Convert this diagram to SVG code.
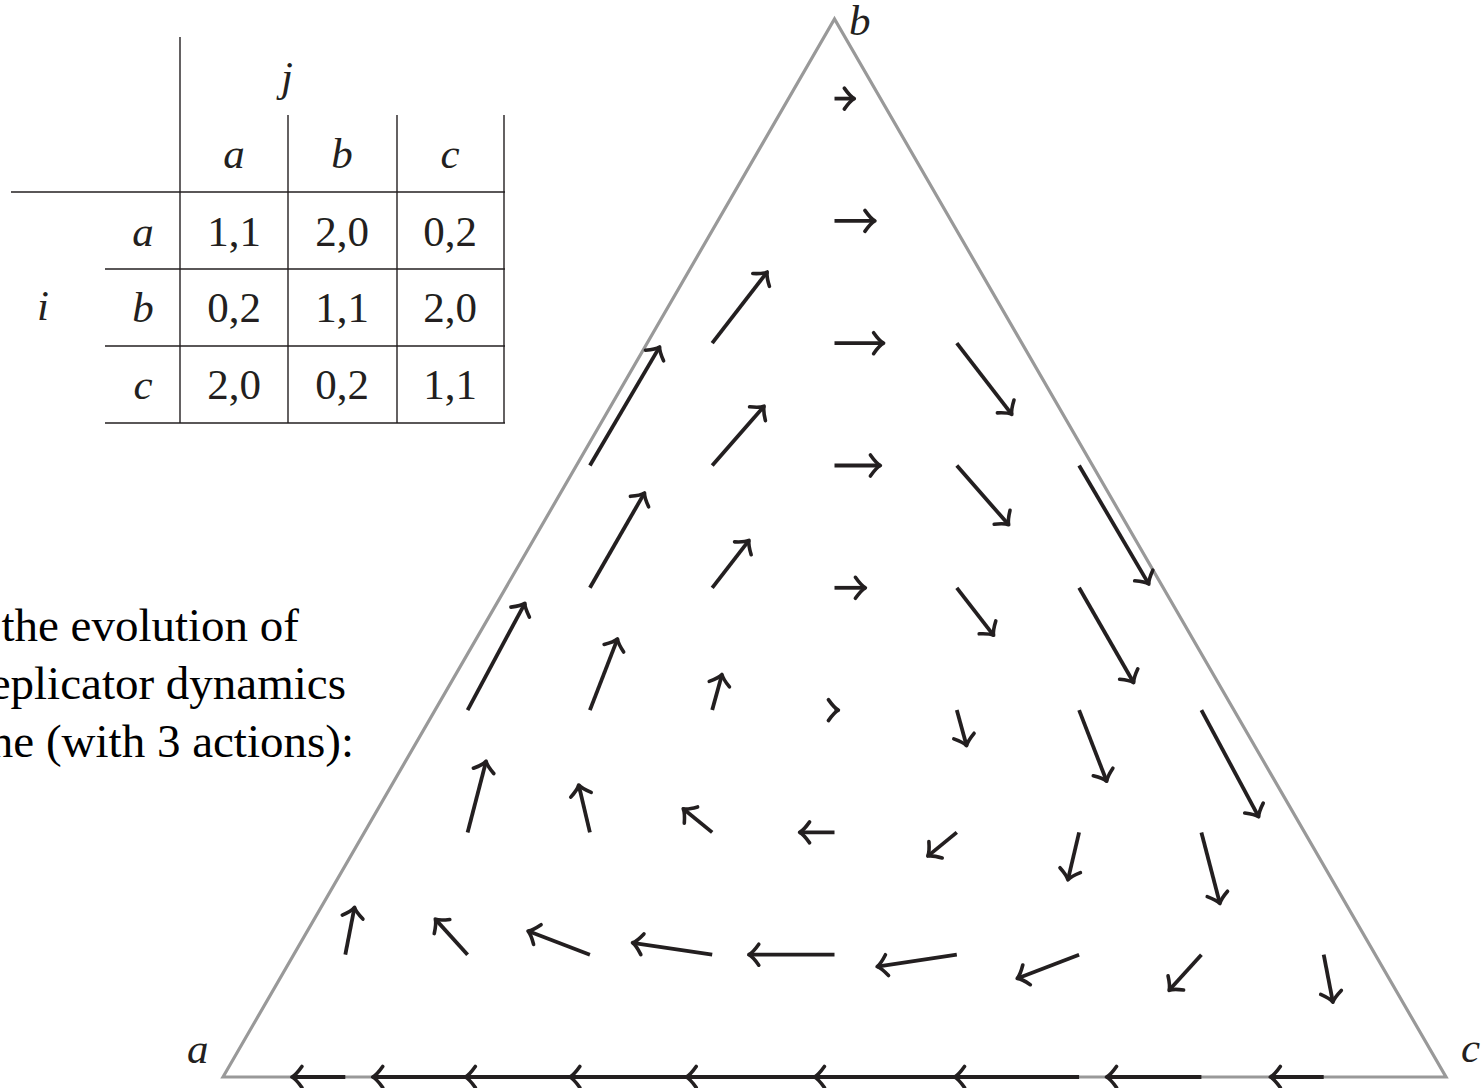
<svg xmlns="http://www.w3.org/2000/svg" width="1483" height="1088" viewBox="0 0 1483 1088">
<style>
  .tbl { stroke: #231f20; stroke-width: 1.4; fill: none; }
  .m { font-family: "Liberation Serif", "Times New Roman", serif; font-style: italic; font-size: 43px; fill: #231f20; }
  .n { font-family: "Liberation Serif", "Times New Roman", serif; font-size: 43px; fill: #231f20; text-anchor: middle; }
  .txt { font-family: "Liberation Serif", "Times New Roman", serif; font-size: 47px; fill: #000; text-anchor: end; }
  .tri { stroke: #999999; stroke-width: 3.2; fill: none; stroke-linejoin: miter; }
  .ar { stroke: #231f20; stroke-width: 3.8; fill: none; marker-end: url(#tip); }
</style>
<defs>
  <marker id="tip" markerUnits="userSpaceOnUse" markerWidth="30" markerHeight="30" refX="0" refY="0" orient="auto" overflow="visible">
    <path d="M -10,-10.5 Q -4,-2 0,0 Q -4,2 -10,10.5" fill="none" stroke="#231f20" stroke-width="3.6" stroke-linecap="round" stroke-linejoin="round"/>
  </marker>
</defs>
<rect width="1483" height="1088" fill="#ffffff"/>

<g id="payoff-table">
  <line class="tbl" x1="180" y1="37" x2="180" y2="423"/>
  <line class="tbl" x1="288" y1="115" x2="288" y2="423"/>
  <line class="tbl" x1="397" y1="115" x2="397" y2="423"/>
  <line class="tbl" x1="504" y1="115" x2="504" y2="423"/>
  <line class="tbl" x1="11" y1="192" x2="505" y2="192"/>
  <line class="tbl" x1="105" y1="269" x2="505" y2="269"/>
  <line class="tbl" x1="105" y1="346" x2="505" y2="346"/>
  <line class="tbl" x1="105" y1="423" x2="505" y2="423"/>
  <text class="m" x="287" y="91" text-anchor="middle">j</text>
  <text class="m" x="234" y="168" text-anchor="middle">a</text>
  <text class="m" x="342" y="168" text-anchor="middle">b</text>
  <text class="m" x="450" y="168" text-anchor="middle">c</text>
  <text class="m" x="143" y="246" text-anchor="middle">a</text>
  <text class="m" x="143" y="322" text-anchor="middle">b</text>
  <text class="m" x="143" y="399" text-anchor="middle">c</text>
  <text class="m" x="43" y="320" text-anchor="middle">i</text>
  <text class="n" x="234" y="246">1,1</text>
  <text class="n" x="342" y="246">2,0</text>
  <text class="n" x="450" y="246">0,2</text>
  <text class="n" x="234" y="322">0,2</text>
  <text class="n" x="342" y="322">1,1</text>
  <text class="n" x="450" y="322">2,0</text>
  <text class="n" x="234" y="399">2,0</text>
  <text class="n" x="342" y="399">0,2</text>
  <text class="n" x="450" y="399">1,1</text>
</g>

<g id="caption">
  <text class="txt" x="299" y="641">the evolution of</text>
  <text class="txt" x="346" y="699">eplicator dynamics</text>
  <text class="txt" x="354" y="757">ne (with 3 actions):</text>
</g>

<g id="simplex">
  <polygon class="tri" points="223,1077 834.5,19 1446,1077"/>
  <text class="m" x="849" y="35">b</text>
  <text class="m" x="187" y="1063">a</text>
  <text class="m" x="1461" y="1062">c</text>
</g>

<g id="vector-field">
  <line class="ar" x1="345.3" y1="1077" x2="291.9" y2="1077"/>
  <line class="ar" x1="467.6" y1="1077" x2="372.7" y2="1077"/>
  <line class="ar" x1="589.9" y1="1077" x2="465.3" y2="1077"/>
  <line class="ar" x1="712.2" y1="1077" x2="569.8" y2="1077"/>
  <line class="ar" x1="834.5" y1="1077" x2="686.2" y2="1077"/>
  <line class="ar" x1="956.8" y1="1077" x2="814.4" y2="1077"/>
  <line class="ar" x1="1079.1" y1="1077" x2="954.5" y2="1077"/>
  <line class="ar" x1="1201.4" y1="1077" x2="1106.5" y2="1077"/>
  <line class="ar" x1="1323.7" y1="1077" x2="1270.3" y2="1077"/>

  <line class="ar" x1="345.3" y1="954.7" x2="354.5" y2="907.3"/>
  <line class="ar" x1="467.6" y1="954.7" x2="435.3" y2="919.1"/>
  <line class="ar" x1="589.9" y1="954.7" x2="528.0" y2="931.0"/>
  <line class="ar" x1="712.2" y1="954.7" x2="632.5" y2="942.8"/>
  <line class="ar" x1="834.5" y1="954.7" x2="748.8" y2="954.7"/>
  <line class="ar" x1="956.8" y1="954.7" x2="877.1" y2="966.6"/>
  <line class="ar" x1="1079.1" y1="954.7" x2="1017.2" y2="978.4"/>
  <line class="ar" x1="1201.4" y1="954.7" x2="1169.1" y2="990.3"/>
  <line class="ar" x1="1323.7" y1="954.7" x2="1332.9" y2="1002.2"/>

  <line class="ar" x1="467.6" y1="832.4" x2="486.1" y2="761.2"/>
  <line class="ar" x1="589.9" y1="832.4" x2="578.7" y2="785.0"/>
  <line class="ar" x1="712.2" y1="832.4" x2="683.2" y2="808.7"/>
  <line class="ar" x1="834.5" y1="832.4" x2="799.6" y2="832.4"/>
  <line class="ar" x1="956.8" y1="832.4" x2="927.8" y2="856.1"/>
  <line class="ar" x1="1079.1" y1="832.4" x2="1067.9" y2="879.9"/>
  <line class="ar" x1="1201.4" y1="832.4" x2="1219.9" y2="903.6"/>

  <line class="ar" x1="467.6" y1="710.1" x2="524.9" y2="603.3"/>
  <line class="ar" x1="589.9" y1="710.1" x2="617.5" y2="638.9"/>
  <line class="ar" x1="712.2" y1="710.1" x2="722.0" y2="674.5"/>
  <line class="ar" x1="834.5" y1="710.1" x2="838.4" y2="710.1"/>
  <line class="ar" x1="956.8" y1="710.1" x2="966.6" y2="745.7"/>
  <line class="ar" x1="1079.1" y1="710.1" x2="1106.7" y2="781.3"/>
  <line class="ar" x1="1201.4" y1="710.1" x2="1258.7" y2="816.9"/>

  <line class="ar" x1="589.9" y1="587.8" x2="644.5" y2="492.9"/>
  <line class="ar" x1="712.2" y1="587.8" x2="749.0" y2="540.4"/>
  <line class="ar" x1="834.5" y1="587.8" x2="865.4" y2="587.8"/>
  <line class="ar" x1="956.8" y1="587.8" x2="993.6" y2="635.3"/>
  <line class="ar" x1="1079.1" y1="587.8" x2="1133.7" y2="682.7"/>

  <line class="ar" x1="589.9" y1="465.5" x2="659.6" y2="346.9"/>
  <line class="ar" x1="712.2" y1="465.5" x2="764.1" y2="406.2"/>
  <line class="ar" x1="834.5" y1="465.5" x2="880.4" y2="465.5"/>
  <line class="ar" x1="956.8" y1="465.5" x2="1008.7" y2="524.8"/>
  <line class="ar" x1="1079.1" y1="465.5" x2="1148.8" y2="584.1"/>

  <line class="ar" x1="712.2" y1="343.2" x2="767.2" y2="272.0"/>
  <line class="ar" x1="834.5" y1="343.2" x2="883.6" y2="343.2"/>
  <line class="ar" x1="956.8" y1="343.2" x2="1011.8" y2="414.4"/>

  <line class="ar" x1="834.5" y1="220.9" x2="874.9" y2="220.9"/>
  <line class="ar" x1="834.5" y1="98.6" x2="854.3" y2="98.6"/>
</g>
</svg>
